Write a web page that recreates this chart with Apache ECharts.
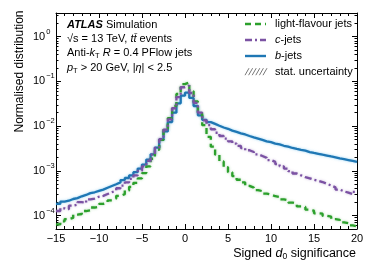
<!DOCTYPE html>
<html><head><meta charset="utf-8">
<script src="https://cdn.jsdelivr.net/npm/echarts@6/dist/echarts.min.js"></script>
<style>html,body{margin:0;padding:0;background:#fff}#c{width:374px;height:280px}</style>
</head><body><div id="c"></div><script>
// Histogram bins: left edge of first bin and bin width (signed d0 significance)
const binStart = -15;
const binWidth = 0.5;
// Normalised distributions per bin
const lightJets = [6.3e-5,7.4e-5,8.3e-5,8.8e-5,1.05e-4,1.08e-4,1.26e-4,1.30e-4,1.51e-4,1.58e-4,1.82e-4,1.95e-4,2.19e-4,2.40e-4,2.75e-4,3.0e-4,3.63e-4,4.37e-4,5.37e-4,6.76e-4,8.9e-4,1.26e-3,1.86e-3,2.95e-3,4.9e-3,8.7e-3,1.51e-2,2.82e-2,5.25e-2,8.7e-2,9.5e-2,6.0e-2,3.55e-2,1.9e-2,1.05e-2,5.75e-3,3.47e-3,2.29e-3,1.62e-3,1.2e-3,9.3e-4,7.6e-4,6.3e-4,5.5e-4,4.6e-4,4.2e-4,3.7e-4,3.5e-4,3.1e-4,2.95e-4,2.7e-4,2.6e-4,2.3e-4,2.2e-4,1.95e-4,1.85e-4,1.6e-4,1.55e-4,1.35e-4,1.28e-4,1.12e-4,1.1e-4,9.8e-5,9.4e-5,8.3e-5,8.0e-5,7.0e-5,6.7e-5,6.0e-5,5.7e-5];
const cJets = [1.26e-4,1.45e-4,1.38e-4,1.66e-4,1.74e-4,2.0e-4,1.9e-4,2.29e-4,2.4e-4,2.63e-4,2.75e-4,3.02e-4,3.31e-4,3.63e-4,4.07e-4,4.68e-4,5.5e-4,6.6e-4,7.9e-4,1.0e-3,1.26e-3,1.66e-3,2.29e-3,3.31e-3,5.1e-3,8.3e-3,1.41e-2,2.51e-2,4.47e-2,7.4e-2,8.1e-2,5.5e-2,3.31e-2,2.0e-2,1.35e-2,1.05e-2,8.5e-3,7.1e-3,6.0e-3,5.25e-3,4.57e-3,4.07e-3,3.63e-3,3.24e-3,2.88e-3,2.63e-3,2.34e-3,2.14e-3,1.95e-3,1.74e-3,1.58e-3,1.41e-3,1.26e-3,1.12e-3,9.8e-4,8.7e-4,7.9e-4,7.2e-4,6.8e-4,6.3e-4,6.0e-4,5.6e-4,5.1e-4,4.7e-4,4.27e-4,3.8e-4,3.47e-4,3.24e-4,3.02e-4,3.39e-4];
const bJets = [1.82e-4,2.04e-4,2.14e-4,2.34e-4,2.45e-4,2.69e-4,2.88e-4,3.16e-4,3.31e-4,3.55e-4,3.8e-4,4.17e-4,4.57e-4,5.0e-4,5.5e-4,6.2e-4,6.9e-4,7.9e-4,9.3e-4,1.12e-3,1.38e-3,1.78e-3,2.34e-3,3.31e-3,4.9e-3,7.6e-3,1.23e-2,2.0e-2,3.24e-2,4.8e-2,5.6e-2,4.27e-2,2.82e-2,1.74e-2,1.38e-2,1.23e-2,1.12e-2,1.02e-2,9.3e-3,8.7e-3,7.9e-3,7.4e-3,6.9e-3,6.5e-3,6.0e-3,5.6e-3,5.25e-3,4.9e-3,4.57e-3,4.37e-3,4.07e-3,3.89e-3,3.63e-3,3.47e-3,3.24e-3,3.09e-3,2.95e-3,2.82e-3,2.63e-3,2.51e-3,2.4e-3,2.29e-3,2.19e-3,2.09e-3,2.0e-3,1.9e-3,1.82e-3,1.74e-3,1.66e-3,1.58e-3];
// Axis ticks
const xTicks = [-15, -10, -5, 0, 5, 10, 15, 20];
const yMajorTicks = [1e-4, 1e-3, 1e-2, 1e-1, 1];
const yMinorTicks = [];
[-5,-4,-3,-2,-1,0].forEach(e => { for (let k = 2; k <= 9; k++) yMinorTicks.push(+(k * Math.pow(10, e)).toPrecision(3)); });
const seriesNames = ['light-flavour jets', 'c-jets', 'b-jets'];
const legendLabels = ['light-flavour jets', '{i|c}-jets', '{i|b}-jets', 'stat. uncertainty'];

const FONT = 'Liberation Sans, Arial, Helvetica, sans-serif';
const X_MIN = -15, X_MAX = 20, Y_MIN = 4.99e-5, Y_MAX = 3.39;
const COLORS = ['#2ca02c', '#7b52a3', '#1f77b4'];
const HALOS = ['rgba(44,160,44,0.45)', 'rgba(123,82,163,0.45)', 'rgba(60,170,230,0.55)'];
const DASHES = [[6, 4], [7, 3, 2, 3], null];

function steps(vals) {
  const pts = vals.map((v, i) => [binStart + i * binWidth, v]);
  pts.push([binStart + vals.length * binWidth, vals[vals.length - 1]]);
  return pts;
}
function supLabel(v) {
  const e = Math.round(Math.log10(v));
  return '{b|10}{s|' + (e < 0 ? '\u2212' + (-e) : e) + '}';
}

const chart = echarts.init(document.getElementById('c'), null, { renderer: 'canvas' });
const axisLine = { show: true, onZero: false, lineStyle: { color: '#000', width: 1 } };
const noLine = { show: false, onZero: false };
const grid = { left: 56, top: 13, width: 301, height: 216, outerBoundsMode: 'none', containLabel: false };

const xBase = {
  type: 'value', min: X_MIN, max: X_MAX, interval: 5,
  axisLine, splitLine: { show: false },
  axisTick: { inside: true, length: 5, lineStyle: { color: '#000' } },
  minorTick: { show: true, splitNumber: 5, length: 3, lineStyle: { color: '#000' } },
  minorSplitLine: { show: false }
};
const yLogBase = {
  type: 'log', logBase: 10, min: Y_MIN, max: Y_MAX,
  axisLine, splitLine: { show: false }, minorSplitLine: { show: false }
};

const rowY = [24, 40, 56, 71.7];
const legendGraphics = [];
for (let k = 0; k < 3; k++) {
  legendGraphics.push({ type: 'line', shape: { x1: 245, y1: rowY[k], x2: 266, y2: rowY[k] },
    style: { stroke: COLORS[k], lineWidth: 2.4, lineDash: DASHES[k] || null } });
}
for (let k = 0; k < 6; k++) {
  legendGraphics.push({ type: 'line', shape: { x1: 245 + k * 3.6, y1: rowY[3] + 3.5, x2: 249 + k * 3.6, y2: rowY[3] - 3.5 },
    style: { stroke: '#777', lineWidth: 1 } });
}
legendLabels.forEach((t, k) => legendGraphics.push({ type: 'text', x: 275, y: rowY[k], style: {
  text: t, fontSize: 11, fontFamily: FONT, fill: '#000', verticalAlign: 'middle',
  rich: { i: { fontStyle: 'italic', fontSize: 11, fontFamily: FONT } } } }));

function lineSeries(k, vals, z) {
  return { name: seriesNames[k], type: 'line', step: 'end', data: steps(vals), symbol: 'none',
    xAxisIndex: 0, yAxisIndex: 0, z,
    lineStyle: { color: COLORS[k], width: 2.3, type: DASHES[k] || 'solid', shadowColor: HALOS[k], shadowBlur: 2.5 },
    itemStyle: { color: COLORS[k] } };
}

chart.setOption({
  animation: false,
  textStyle: { fontFamily: FONT },
  grid,
  xAxis: [
    Object.assign({}, xBase, {
      position: 'bottom',
      axisLabel: {
        color: '#000', fontSize: 11, margin: 4, fontFamily: FONT,
        customValues: xTicks,
        formatter: v => (v < 0 ? '\u2212' + Math.abs(v) : String(v))
      },
      axisTick: { inside: true, length: 5, lineStyle: { color: '#000' }, customValues: xTicks }
    }),
    Object.assign({}, xBase, { position: 'top', axisLabel: { show: false } })
  ],
  yAxis: [
    Object.assign({}, yLogBase, {
      position: 'left',
      axisTick: { inside: true, length: 5, lineStyle: { color: '#000' }, customValues: yMajorTicks },
      axisLabel: {
        color: '#000', align: 'left', margin: 23, customValues: yMajorTicks,
        formatter: supLabel,
        rich: {
          b: { fontSize: 11, lineHeight: 18, fontFamily: FONT, color: '#000' },
          s: { fontSize: 7.5, lineHeight: 8, verticalAlign: 'top', fontFamily: FONT, color: '#000', padding: [0, 0, 0, 1] }
        }
      }
    }),
    Object.assign({}, yLogBase, {
      position: 'left', axisLine: noLine,
      axisTick: { inside: true, length: 2.5, lineStyle: { color: '#000' }, customValues: yMinorTicks },
      axisLabel: { show: false }
    }),
    Object.assign({}, yLogBase, {
      position: 'right',
      axisTick: { inside: true, length: 5, lineStyle: { color: '#000' }, customValues: yMajorTicks },
      axisLabel: { show: false }
    }),
    Object.assign({}, yLogBase, {
      position: 'right', axisLine: noLine,
      axisTick: { inside: true, length: 2.5, lineStyle: { color: '#000' }, customValues: yMinorTicks },
      axisLabel: { show: false }
    })
  ],
  series: [
    lineSeries(0, lightJets, 3),
    lineSeries(1, cJets, 4),
    lineSeries(2, bJets, 2)
  ],
  graphic: [
    { type: 'text', rotation: Math.PI / 2, x: 19.5, y: 71.5,
      style: { text: 'Normalised distribution', fontSize: 12, fontFamily: FONT, fill: '#000', align: 'center', verticalAlign: 'middle' } },
    { type: 'text', x: 356, y: 253.3, style: {
        text: 'Signed {i|d}{sub|0} significance', fontSize: 12.5, fontFamily: FONT, fill: '#000',
        align: 'right', verticalAlign: 'middle', lineHeight: 15,
        rich: { i: { fontStyle: 'italic', fontSize: 12.5, lineHeight: 15, fontFamily: FONT },
                sub: { fontSize: 8.5, lineHeight: 9, verticalAlign: 'bottom', fontFamily: FONT } } } },
    { type: 'text', x: 67, y: 25, style: {
        text: '{b|ATLAS} Simulation', fontSize: 11, fontFamily: FONT, fill: '#000', verticalAlign: 'middle',
        rich: { b: { fontWeight: 'bold', fontStyle: 'italic', fontSize: 11, fontFamily: FONT } } } },
    { type: 'text', x: 67, y: 39.3, style: {
        text: '\u221As = 13 TeV, {i|tt\u0304} events', fontSize: 11, fontFamily: FONT, fill: '#000', verticalAlign: 'middle',
        rich: { i: { fontStyle: 'italic', fontSize: 11, fontFamily: FONT } } } },
    { type: 'text', x: 67, y: 53.3, style: {
        text: 'Anti-{i|k}{sub|T} {i|R} = 0.4 PFlow jets', fontSize: 11, fontFamily: FONT, fill: '#000', verticalAlign: 'middle', lineHeight: 13,
        rich: { i: { fontStyle: 'italic', fontSize: 11, lineHeight: 13, fontFamily: FONT },
                sub: { fontSize: 7.5, lineHeight: 8, verticalAlign: 'bottom', fontFamily: FONT } } } },
    { type: 'text', x: 67, y: 68.3, style: {
        text: '{i|p}{sub|T} > 20 GeV, |{i|\u03B7}| < 2.5', fontSize: 11, fontFamily: FONT, fill: '#000', verticalAlign: 'middle', lineHeight: 13,
        rich: { i: { fontStyle: 'italic', fontSize: 11, lineHeight: 13, fontFamily: FONT },
                sub: { fontSize: 7.5, lineHeight: 8, verticalAlign: 'bottom', fontFamily: FONT } } } },
    { type: 'group', children: legendGraphics }
  ]
});
</script></body></html>
